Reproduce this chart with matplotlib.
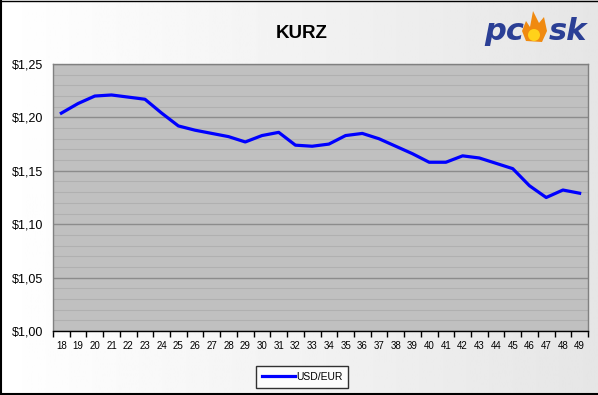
import matplotlib
matplotlib.use('Agg')

import matplotlib.pyplot as plt
import numpy as np
from matplotlib.patches import Ellipse, Polygon

# -----------------------------
# DATA
# -----------------------------
weeks = [str(w) for w in range(18, 50)]
usd_eur = [1.204, 1.213, 1.220, 1.221, 1.219, 1.217, 1.204, 1.192,
           1.188, 1.185, 1.182, 1.177, 1.183, 1.186, 1.174, 1.173,
           1.175, 1.183, 1.185, 1.180, 1.173, 1.166, 1.158, 1.158,
           1.164, 1.162, 1.157, 1.152, 1.136, 1.125, 1.132, 1.129]
y_ticks = [1.00, 1.05, 1.10, 1.15, 1.20, 1.25]
y_labels = ["$" + f"{v:.2f}".replace(".", ",") for v in y_ticks]

fig = plt.figure(figsize=(5.98, 3.95), dpi=100)

# background gradient (white -> light gray, left to right)
bg = fig.add_axes([0, 0, 1, 1], zorder=-10)
grad = np.linspace(1.0, 0.90, 256).reshape(1, -1)
bg.imshow(grad, cmap='gray', vmin=0, vmax=1, aspect='auto', extent=[0, 1, 0, 1])
bg.set_xlim(0, 1)
bg.set_ylim(0, 1)
bg.axis('off')
# outer frame (left, top, bottom)
bg.plot([0.002, 0.002], [0, 1], color='black', lw=1.5, clip_on=False)
bg.plot([0, 1], [0.998, 0.998], color='black', lw=1.0, clip_on=False)
bg.plot([0, 1], [0.003, 0.003], color='black', lw=1.5, clip_on=False)

# -----------------------------
# MAIN PLOT
# -----------------------------
ax = fig.add_axes([53 / 598, 1 - 331 / 395, 535 / 598, 267 / 395])
ax.set_facecolor('#c0c0c0')
x = np.arange(len(weeks))
ax.plot(x, usd_eur, color='#0000ff', lw=2.3, label='USD/EUR', zorder=3)

ax.set_xlim(-0.5, len(weeks) - 0.5)
ax.set_ylim(1.00, 1.25)

ax.set_yticks(y_ticks)
ax.set_yticklabels(y_labels, fontsize=9, family='Liberation Sans')
ax.set_yticks(np.arange(1.00, 1.2501, 0.01), minor=True)
ax.tick_params(axis='y', which='both', length=0, pad=7)

ax.set_xticks(x)
ax.set_xticklabels(weeks, fontsize=7, family='Liberation Sans')
ax.set_xticks(np.arange(-0.5, len(weeks), 1.0), minor=True)
ax.tick_params(axis='x', which='major', length=0, pad=7)
ax.tick_params(axis='x', which='minor', length=4, width=1, color='black', direction='out')

ax.grid(axis='y', which='minor', color='#b0b0b0', lw=0.8)
ax.grid(axis='y', which='major', color='#8c8c8c', lw=1.0)
ax.set_axisbelow(True)

for side in ['left', 'top', 'right']:
    ax.spines[side].set_color('#808080')
    ax.spines[side].set_linewidth(1.0)
ax.spines['bottom'].set_color('black')
ax.spines['bottom'].set_linewidth(1.0)

fig.text(0.505, 0.915, "KURZ", ha='center', va='center', fontsize=13.5,
         fontweight='bold', family='Liberation Sans')

leg = fig.legend(loc='center', bbox_to_anchor=(302 / 598, 1 - 377 / 395),
                 frameon=True, fancybox=False, handlelength=3.2,
                 borderpad=0.55, handletextpad=0.1,
                 prop={'family': 'Liberation Sans', 'size': 7.5})
leg.get_frame().set_edgecolor('black')
leg.get_frame().set_linewidth(1.0)
leg.get_frame().set_facecolor('white')

# -----------------------------
# LOGO
# -----------------------------
logo_kw = dict(fontsize=22, fontweight='heavy', style='italic', color='#2b3f95',
               va='center', family='DejaVu Sans')
fig.text(484 / 598, 1 - 32 / 395, "pc", ha='left', **logo_kw)
fig.text(587 / 598, 1 - 32 / 395, "sk", ha='right', **logo_kw)
pts = np.array([(526, 41), (522, 31), (526, 21), (530, 27), (533, 11), (539, 23),
                (544, 17), (547, 31), (542, 42)], dtype=float)
pts[:, 0] /= 598
pts[:, 1] = 1 - pts[:, 1] / 395
bg.add_patch(Polygon(pts, closed=True, facecolor='#f08a10', edgecolor='none', zorder=5))
bg.add_patch(Ellipse((534 / 598, 1 - 35 / 395), 12 / 598, 12 / 395,
                     facecolor='#ffd21a', edgecolor='none', zorder=6))

fig.savefig("out.png", dpi=100)
